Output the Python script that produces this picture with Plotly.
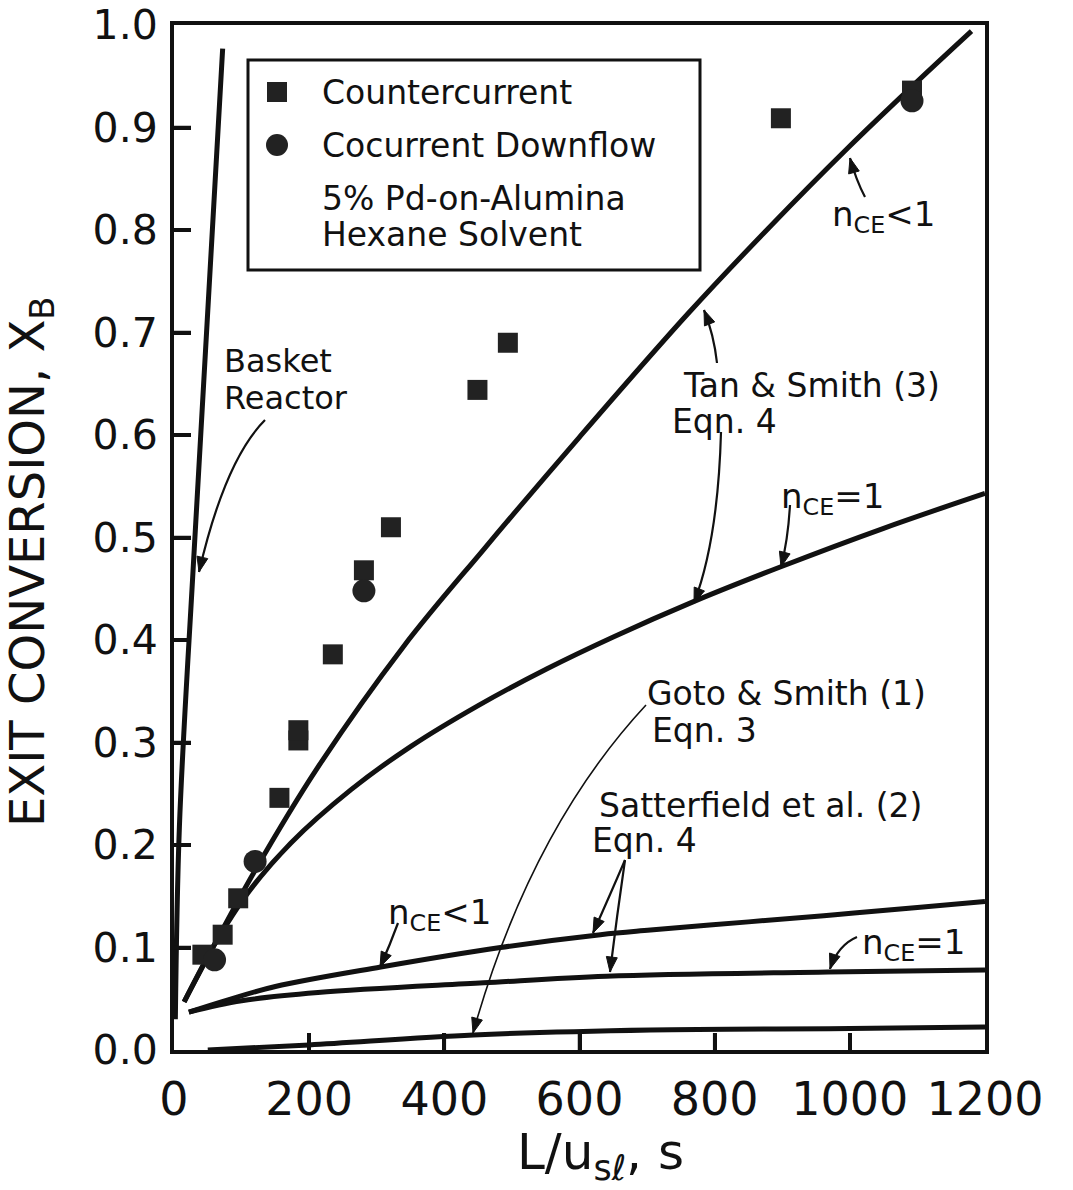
import math
import plotly.graph_objects as go

# ---------------- data ----------------
x_ticks = [0, 200, 400, 600, 800, 1000, 1200]
y_ticks = [0.0, 0.1, 0.2, 0.3, 0.4, 0.5, 0.6, 0.7, 0.8, 0.9, 1.0]

counter_x = [42, 72, 95, 156, 184, 184, 235, 281, 321, 449, 494, 898, 1092]
counter_y = [0.093, 0.1125, 0.148, 0.246, 0.302, 0.312, 0.386, 0.468, 0.510, 0.644, 0.690, 0.909, 0.936]

cocur_x = [60, 120, 281, 1092]
cocur_y = [0.088, 0.184, 0.448, 0.926]

basket_x = [2, 8, 30, 72]
basket_y = [0.03, 0.218, 0.489, 0.977]

tan_lt1_x = [15, 60, 118, 212, 340, 459, 600, 760, 880, 997, 1100, 1180]
tan_lt1_y = [0.047, 0.103, 0.173, 0.275, 0.394, 0.489, 0.598, 0.718, 0.802, 0.880, 0.945, 0.994]

tan_eq1_x = [15, 60, 109, 173, 262, 350, 450, 552, 650, 767, 896, 1050, 1200]
tan_eq1_y = [0.047, 0.103, 0.153, 0.202, 0.254, 0.296, 0.336, 0.372, 0.403, 0.437, 0.471, 0.509, 0.543]

satt_lt1_x = [22, 80, 150, 306, 483, 631, 705, 850, 978, 1100, 1200]
satt_lt1_y = [0.037, 0.049, 0.062, 0.081, 0.100, 0.1125, 0.117, 0.125, 0.132, 0.139, 0.145]

satt_eq1_x = [22, 100, 213, 458, 640, 968, 1200]
satt_eq1_y = [0.037, 0.048, 0.056, 0.0655, 0.072, 0.076, 0.078]

goto_x = [50, 200, 443, 705, 1000, 1200]
goto_y = [0.0, 0.005, 0.0147, 0.0196, 0.021, 0.0225]

# ---------------- geometry ----------------
W, H = 1073, 1190
ML, MR, MT, MB = 174, 88, 25, 140
X_MAX, Y_MAX = 1200.0, 1.0
PW, PH = W - ML - MR, H - MT - MB
FONT = "DejaVu Sans"
INK = "#111111"
TICK_PX = 17


def X(px):
    return (px - ML) / PW * X_MAX


def Y(py):
    return (H - MB - py) / PH * Y_MAX


def PXp(px):
    return (px - ML) / PW


def PYp(py):
    return (H - MB - py) / PH


fig = go.Figure()

curve_style = dict(color=INK, width=5)
for xs, ys in [(basket_x, basket_y), (tan_lt1_x, tan_lt1_y), (tan_eq1_x, tan_eq1_y),
               (satt_lt1_x, satt_lt1_y), (satt_eq1_x, satt_eq1_y), (goto_x, goto_y)]:
    fig.add_trace(go.Scatter(x=xs, y=ys, mode="lines", line=dict(shape="spline", smoothing=1.0, **curve_style),
                             showlegend=False, hoverinfo="skip"))

fig.add_trace(go.Scatter(x=counter_x, y=counter_y, mode="markers", name="Countercurrent",
                         marker=dict(symbol="square", size=20, color="#222222", line=dict(width=0)),
                         showlegend=False))
fig.add_trace(go.Scatter(x=cocur_x, y=cocur_y, mode="markers", name="Cocurrent Downflow",
                         marker=dict(symbol="circle", size=23, color="#222222", line=dict(width=0)),
                         showlegend=False))

shapes = []
annotations = []

# inside tick marks (drawn from the tick arrays)
for v in x_ticks[1:-1]:
    shapes.append(dict(type="line", xref="x", yref="y", x0=v, x1=v, y0=0, y1=TICK_PX / PH * Y_MAX,
                       line=dict(color=INK, width=3.5)))
for v in y_ticks[1:-1]:
    shapes.append(dict(type="line", xref="x", yref="y", x0=0, x1=TICK_PX / PW * X_MAX, y0=v, y1=v,
                       line=dict(color=INK, width=3.5)))

# legend box and symbols
shapes.append(dict(type="rect", xref="x", yref="y", x0=X(248), x1=X(700), y0=Y(60), y1=Y(270),
                   line=dict(color=INK, width=3), fillcolor="white", layer="below"))
shapes.append(dict(type="rect", xref="x", yref="y", x0=X(267), x1=X(287), y0=Y(82), y1=Y(102),
                   line=dict(width=0), fillcolor="#222222"))
shapes.append(dict(type="circle", xref="x", yref="y", x0=X(266), x1=X(288), y0=Y(134), y1=Y(156),
                   line=dict(width=0), fillcolor="#222222"))


def text(s, left, cy, size):
    annotations.append(dict(text=s, x=X(left), y=Y(cy), xref="x", yref="y", xanchor="left",
                            yanchor="middle", showarrow=False, font=dict(family=FONT, size=size, color=INK)))


def curved_arrow(p0, pc, p1, w=2.2, head=15, half=5.5):
    shapes.append(dict(type="path", xref="x", yref="y",
                       path=f"M {X(p0[0])},{Y(p0[1])} Q {X(pc[0])},{Y(pc[1])} {X(p1[0])},{Y(p1[1])}",
                       line=dict(color=INK, width=w)))
    dx, dy = p1[0] - pc[0], p1[1] - pc[1]
    n = math.hypot(dx, dy)
    ux, uy = dx / n, dy / n
    bx, by = p1[0] - ux * head, p1[1] - uy * head
    l1 = (bx - uy * half, by + ux * half)
    l2 = (bx + uy * half, by - ux * half)
    shapes.append(dict(type="path", xref="x", yref="y",
                       path=(f"M {X(p1[0])},{Y(p1[1])} L {X(l1[0])},{Y(l1[1])} "
                             f"L {X(l2[0])},{Y(l2[1])} Z"),
                       line=dict(color=INK, width=1), fillcolor=INK))


text("Countercurrent", 320, 92, 33)
text("Cocurrent Downflow", 320, 145, 33)
text("5% Pd-on-Alumina", 320, 198, 33)
text("Hexane Solvent", 320, 234, 33)
text("Basket", 222, 361, 32)
text("Reactor", 222, 398, 32)
text("Tan & Smith (3)", 681, 385, 33)
text("Eqn. 4", 670, 421, 33)
text("Goto & Smith (1)", 645, 693, 33)
text("Eqn. 3", 650, 730, 33)
text("Satterfield et al. (2)", 597, 805, 33)
text("Eqn. 4", 590, 840, 33)
text("n<sub>CE</sub>&lt;1", 830, 216, 34)
text("n<sub>CE</sub>=1", 779, 498, 34)
text("n<sub>CE</sub>&lt;1", 386, 914, 34)
text("n<sub>CE</sub>=1", 860, 944, 34)

curved_arrow((265, 420), (225, 460), (199, 572))
curved_arrow((865, 197), (856, 180), (850, 158))
curved_arrow((717, 363), (714, 335), (704, 310))
curved_arrow((721, 432), (718, 540), (694, 603))
curved_arrow((790, 505), (788, 540), (781, 567))
curved_arrow((646, 705), (530, 830), (473, 1033), w=1.6)
curved_arrow((625, 860), (610, 895), (593, 933))
curved_arrow((625, 860), (617, 915), (610, 972))
curved_arrow((398, 923), (390, 945), (380, 967))
curved_arrow((857, 937), (838, 945), (830, 969))

# axis titles
annotations.append(dict(text="EXIT CONVERSION, X<sub>B</sub>", x=PXp(30), y=PYp(562), xref="paper", yref="paper",
                        textangle=-90, showarrow=False, xanchor="center", yanchor="middle",
                        font=dict(family=FONT, size=48, color=INK)))
annotations.append(dict(text="L/u<sub>sℓ</sub>, s", x=PXp(600), y=PYp(1155), xref="paper", yref="paper",
                        showarrow=False, xanchor="center", yanchor="middle",
                        font=dict(family=FONT, size=50, color=INK)))

axis_common = dict(showline=True, linewidth=4, linecolor=INK, mirror=True, showgrid=False, zeroline=False,
                   ticks="inside", ticklen=TICK_PX, tickwidth=3.5, tickcolor=INK)

fig.update_layout(
    width=W, height=H,
    margin=dict(l=ML, r=MR, t=MT, b=MB, autoexpand=False),
    paper_bgcolor="white", plot_bgcolor="white",
    showlegend=False,
    xaxis=dict(range=[0, X_MAX], tickvals=x_ticks, ticktext=[str(v) for v in x_ticks],
               tickfont=dict(family=FONT, size=46, color=INK), ticklabelstandoff=6, **axis_common),
    yaxis=dict(range=[0, Y_MAX], tickvals=y_ticks, ticktext=[f"{v:.1f}" for v in y_ticks],
               tickfont=dict(family=FONT, size=41, color=INK), ticklabelstandoff=4, **axis_common),
    shapes=shapes,
    annotations=annotations,
)

fig.write_html("out.html")
